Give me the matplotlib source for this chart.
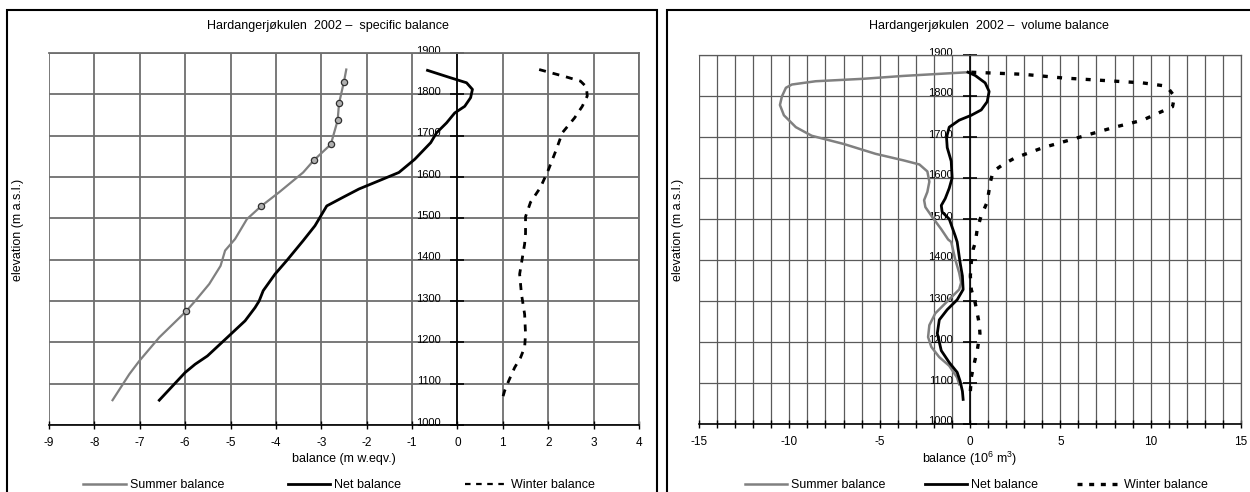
import matplotlib
matplotlib.use("Agg")
import matplotlib.pyplot as plt
from matplotlib.patches import Rectangle
from matplotlib.lines import Line2D
from matplotlib.transforms import ScaledTranslation

plt.rcParams['font.family'] = ['Liberation Sans', 'DejaVu Sans']
plt.rcParams['mathtext.fontset'] = 'custom'
plt.rcParams['mathtext.rm'] = 'Liberation Sans'
plt.rcParams['font.size'] = 9
plt.rcParams['axes.unicode_minus'] = False

# ---------------- data: specific balance (m w.eq.) ----------------
spec_summer_bal = [-2.45, -2.50, -2.61, -2.64, -2.79, -3.16, -3.40, -3.93, -4.33, -4.64, -4.90,
                   -5.12, -5.22, -5.47, -5.78, -5.98, -6.57, -7.01, -7.23, -7.60]
spec_summer_elev = [1860, 1831, 1778, 1737, 1679, 1641, 1611, 1563, 1529, 1498, 1450,
                    1422, 1385, 1341, 1300, 1275, 1212, 1155, 1123, 1060]
obs_bal = [-2.50, -2.61, -2.64, -2.79, -3.16, -4.33, -5.98]
obs_elev = [1831, 1778, 1737, 1679, 1641, 1529, 1275]

spec_net_bal = [-0.66, -0.15, 0.20, 0.33, 0.29, 0.16, -0.06, -0.24, -0.46, -0.59, -0.94, -1.29,
                -1.64, -2.17, -2.52, -2.88, -3.01, -3.14, -3.40, -3.76, -4.02, -4.28, -4.37,
                -4.46, -4.68, -5.07, -5.51, -5.78, -6.00, -6.57]
spec_net_elev = [1858, 1840, 1828, 1812, 1792, 1771, 1755, 1731, 1707, 1683, 1643, 1611,
                 1595, 1571, 1551, 1530, 1506, 1482, 1446, 1398, 1365, 1325, 1300,
                 1284, 1252, 1212, 1167, 1147, 1127, 1060]

spec_winter_bal = [1.80, 2.40, 2.71, 2.84, 2.86, 2.75, 2.58, 2.31, 2.18, 2.01, 1.83, 1.61, 1.50,
                   1.50, 1.48, 1.42, 1.37, 1.41, 1.48, 1.50, 1.48, 1.39, 1.26, 1.13, 1.04, 0.98]
spec_winter_elev = [1860, 1842, 1832, 1818, 1796, 1771, 1743, 1707, 1667, 1619, 1575, 1539, 1504,
                    1464, 1438, 1398, 1365, 1317, 1268, 1220, 1188, 1163, 1139, 1107, 1083, 1060]

# ---------------- data: volume balance (10^6 m^3) ----------------
vol_summer_bal = [-0.11, -3.68, -5.89, -8.54, -9.86, -10.19, -10.41, -10.52, -10.30, -9.64, -8.76,
                  -6.99, -5.23, -3.68, -2.80, -2.36, -2.25, -2.36, -2.54, -2.47, -2.14, -1.59,
                  -1.21, -1.04, -0.82, -0.60, -0.49, -0.60, -1.26, -1.92, -2.25, -2.32, -2.14,
                  -1.70, -1.15, -0.71, -0.60]
vol_summer_elev = [1858, 1849, 1842, 1836, 1828, 1820, 1799, 1778, 1753, 1724, 1703,
                   1683, 1659, 1643, 1633, 1616, 1591, 1566, 1546, 1529, 1508, 1475,
                   1450, 1444, 1402, 1369, 1345, 1328, 1299, 1270, 1241, 1212, 1188,
                   1163, 1142, 1113, 1097]

vol_net_bal = [-0.11, 0.29, 0.84, 1.06, 0.95, 0.62, 0.07, -0.60, -1.15, -1.30, -1.26, -1.04,
               -0.99, -1.15, -1.37, -1.59, -1.54, -1.15, -0.82, -0.71, -0.55, -0.42, -0.38,
               -0.71, -1.26, -1.70, -1.81, -1.59, -1.15, -0.71, -0.55, -0.42, -0.38]
vol_net_elev = [1858, 1850, 1832, 1811, 1786, 1766, 1753, 1741, 1724, 1699, 1674, 1641,
                1600, 1575, 1550, 1533, 1517, 1500, 1459, 1444, 1394, 1361, 1328,
                1303, 1279, 1254, 1221, 1179, 1150, 1126, 1105, 1080, 1060]

vol_winter_bal = [0.07, 2.93, 5.14, 7.35, 9.55, 10.88, 11.32, 11.21, 9.55, 8.01, 6.02, 4.04,
                  2.49, 1.83, 1.28, 1.13, 0.95, 0.62, 0.40, 0.29, 0.18, 0.07, 0.02, 0.07,
                  0.29, 0.51, 0.55, 0.40, 0.18, 0.07, 0.02]
vol_winter_elev = [1858, 1853, 1844, 1838, 1832, 1824, 1799, 1774, 1741, 1724, 1699, 1674,
                   1649, 1633, 1616, 1591, 1541, 1508, 1475, 1442, 1427, 1394, 1361, 1328,
                   1295, 1245, 1221, 1179, 1138, 1113, 1080]

spec_xticks = list(range(-9, 5))
vol_xticks_major = [-15, -10, -5, 0, 5, 10, 15]
vol_xticks_minor = list(range(-15, 16))
elev_ticks = list(range(1000, 2000, 100))

titles = ["Hardangerjøkulen  2002 –  specific balance",
          "Hardangerjøkulen  2002 –  volume balance"]
xlabels = ["balance (m w.eqv.)", r"balance (10$^{\mathregular{6}}$ m$^{\mathregular{3}}$)"]
ylabel = "elevation (m a.s.l.)"
legend_labels = ["Summer balance", "Net balance", "Winter balance"]

# ---------------- figure ----------------
W, H = 1250, 492
fig = plt.figure(figsize=(W / 100, H / 100), dpi=100)

def fx(px):
    return px / W

def fy(py):
    return 1 - py / H

# panel frames
for x0, x1 in [(7, 657), (667, 1320)]:
    fig.add_artist(Rectangle((fx(x0), fy(520)), fx(x1) - fx(x0), fy(10) - fy(520),
                             transform=fig.transFigure, fill=False, edgecolor='black',
                             linewidth=1.5, clip_on=False))

gray = '#808080'

axL = fig.add_axes([fx(49), fy(425), fx(639) - fx(49), fy(53) - fy(425)])
axR = fig.add_axes([fx(699), fy(424), fx(1241) - fx(699), fy(55) - fy(424)])

def style_axes(ax, xlim, gridc, gridlw):
    ax.set_xlim(*xlim)
    ax.set_ylim(1000, 1900)
    ax.set_yticks(elev_ticks)
    ax.spines['left'].set_position(('data', 0))
    ax.spines['left'].set_color('black')
    ax.spines['left'].set_linewidth(1.2)
    ax.spines['bottom'].set_color('black')
    ax.spines['bottom'].set_linewidth(1.2)
    for s in ['top', 'right']:
        ax.spines[s].set_color(gridc)
        ax.spines[s].set_linewidth(gridlw)
    ax.tick_params(axis='y', direction='inout', length=10, width=1.2, pad=7.2,
                   labelsize=8, colors='black')
    ax.tick_params(axis='x', which='both', direction='inout', length=6, width=1.0,
                   pad=5.5, labelsize=8.5)
    ax.grid(True, which='both', color=gridc, linewidth=gridlw)
    ax.set_axisbelow(True)
    off = ScaledTranslation(0, 3.5 / 100, fig.dpi_scale_trans)
    for lab in ax.get_yticklabels():
        lab.set_transform(lab.get_transform() + off)

# left panel
axL.set_xticks(spec_xticks)
style_axes(axL, (-9, 4), '#6e6e6e', 1.3)
axL.plot(spec_summer_bal, spec_summer_elev, color=gray, lw=1.6)
axL.plot(obs_bal, obs_elev, linestyle='none', marker='o', markersize=4.5,
         markerfacecolor='#b0b0b0', markeredgecolor='#303030', markeredgewidth=0.9)
axL.plot(spec_net_bal, spec_net_elev, color='black', lw=2.0)
axL.plot(spec_winter_bal, spec_winter_elev, color='black', lw=2.0, dashes=(2.5, 2.5))

# right panel
axR.set_xticks(vol_xticks_major)
axR.set_xticks(vol_xticks_minor, minor=True)
style_axes(axR, (-15, 15), '#5a5a5a', 0.9)
axR.plot(vol_summer_bal, vol_summer_elev, color=gray, lw=1.8)
axR.plot(vol_net_bal, vol_net_elev, color='black', lw=2.0)
axR.plot(vol_winter_bal, vol_winter_elev, color='black', lw=2.4, dashes=(1.5, 2.8))

# titles, labels
fig.text(fx(328), fy(26), titles[0], ha='center', va='center', fontsize=9)
fig.text(fx(989), fy(26), titles[1], ha='center', va='center', fontsize=9)
fig.text(fx(344), fy(459), xlabels[0], ha='center', va='center', fontsize=9)
fig.text(fx(970), fy(459), xlabels[1], ha='center', va='center', fontsize=9)
fig.text(fx(18), fy(230), ylabel, ha='center', va='center', rotation=90, fontsize=9)
fig.text(fx(678), fy(230), ylabel, ha='center', va='center', rotation=90, fontsize=9)

# legends
def make_handles(wdash, wlw):
    return [Line2D([], [], color=gray, lw=1.8),
            Line2D([], [], color='black', lw=2.0),
            Line2D([], [], color='black', lw=wlw, dashes=wdash)]

fig.legend(make_handles((2.5, 2.5), 1.6), legend_labels, loc='center',
           bbox_to_anchor=(fx(339), fy(485)), bbox_transform=fig.transFigure,
           ncol=3, frameon=False, fontsize=9, handlelength=3.4, handletextpad=0.3,
           columnspacing=5.1, borderpad=0, borderaxespad=0)
fig.legend(make_handles((1.5, 2.0), 2.4), legend_labels, loc='center',
           bbox_to_anchor=(fx(976), fy(485)), bbox_transform=fig.transFigure,
           ncol=3, frameon=False, fontsize=9, handlelength=3.4, handletextpad=0.3,
           columnspacing=3.15, borderpad=0, borderaxespad=0)

fig.savefig("out.png", dpi=100)
